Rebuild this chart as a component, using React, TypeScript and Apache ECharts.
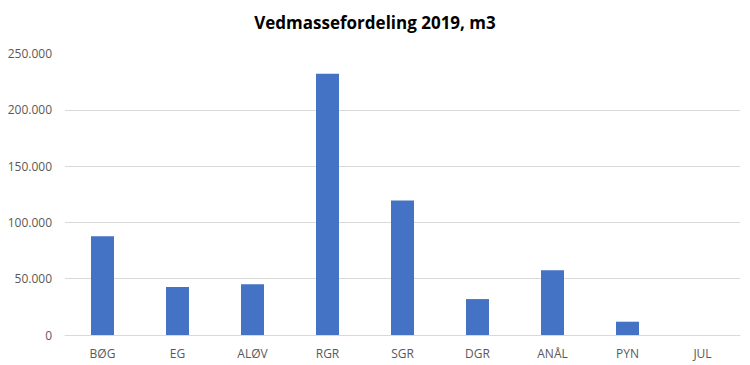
import React, { useEffect, useRef } from "react";
import * as echarts from "echarts";

const categories = ["BØG", "EG", "ALØV", "RGR", "SGR", "DGR", "ANÅL", "PYN", "JUL"];
const volumes = [87600, 42700, 45100, 232100, 119500, 31900, 57500, 11800, 0];
const titleText = "Vedmassefordeling 2019, m3";

function fmt(v: number): string {
  if (v === 0) return "0";
  return String(v).replace(/\B(?=(\d{3})+(?!\d))/g, ".");
}

export default function App() {
  const ref = useRef<HTMLDivElement>(null);
  useEffect(() => {
    if (!ref.current) return;
    const chart = echarts.init(ref.current, null, { renderer: "svg" });
    chart.setOption({
      animation: false,
      backgroundColor: "#ffffff",
      title: {
        text: titleText,
        left: "center",
        top: 9,
        textStyle: {
          fontFamily: "Open Sans",
          fontWeight: "bold",
          fontSize: 17,
          color: "#000000",
        },
      },
      grid: { left: 65, right: 10, top: 53.5, bottom: 30, containLabel: false },
      xAxis: {
        type: "category",
        data: categories,
        axisLine: { show: true, lineStyle: { color: "#d9d9d9", width: 1 } },
        axisTick: { show: false },
        axisLabel: {
          color: "#595959",
          fontFamily: "Open Sans",
          fontSize: 12,
          margin: 12,
        },
      },
      yAxis: {
        type: "value",
        min: 0,
        max: 250000,
        interval: 50000,
        axisLine: { show: false },
        axisTick: { show: false },
        splitLine: {
          show: true,
          lineStyle: {
            color: ["#d9d9d9", "#d9d9d9", "#d9d9d9", "#d9d9d9", "#d9d9d9", "rgba(0,0,0,0)"],
            width: 1,
          },
        },
        axisLabel: {
          color: "#595959",
          fontFamily: "Open Sans",
          fontSize: 12,
          margin: 13,
          formatter: (v: number) => fmt(v),
        },
      },
      series: [
        {
          type: "bar",
          data: volumes,
          barWidth: 23,
          itemStyle: { color: "#4472c4" },
        },
      ],
    });
    return () => chart.dispose();
  }, []);
  return <div ref={ref} style={{ width: 750, height: 365, position: "absolute", left: 0, top: 0 }} />;
}
